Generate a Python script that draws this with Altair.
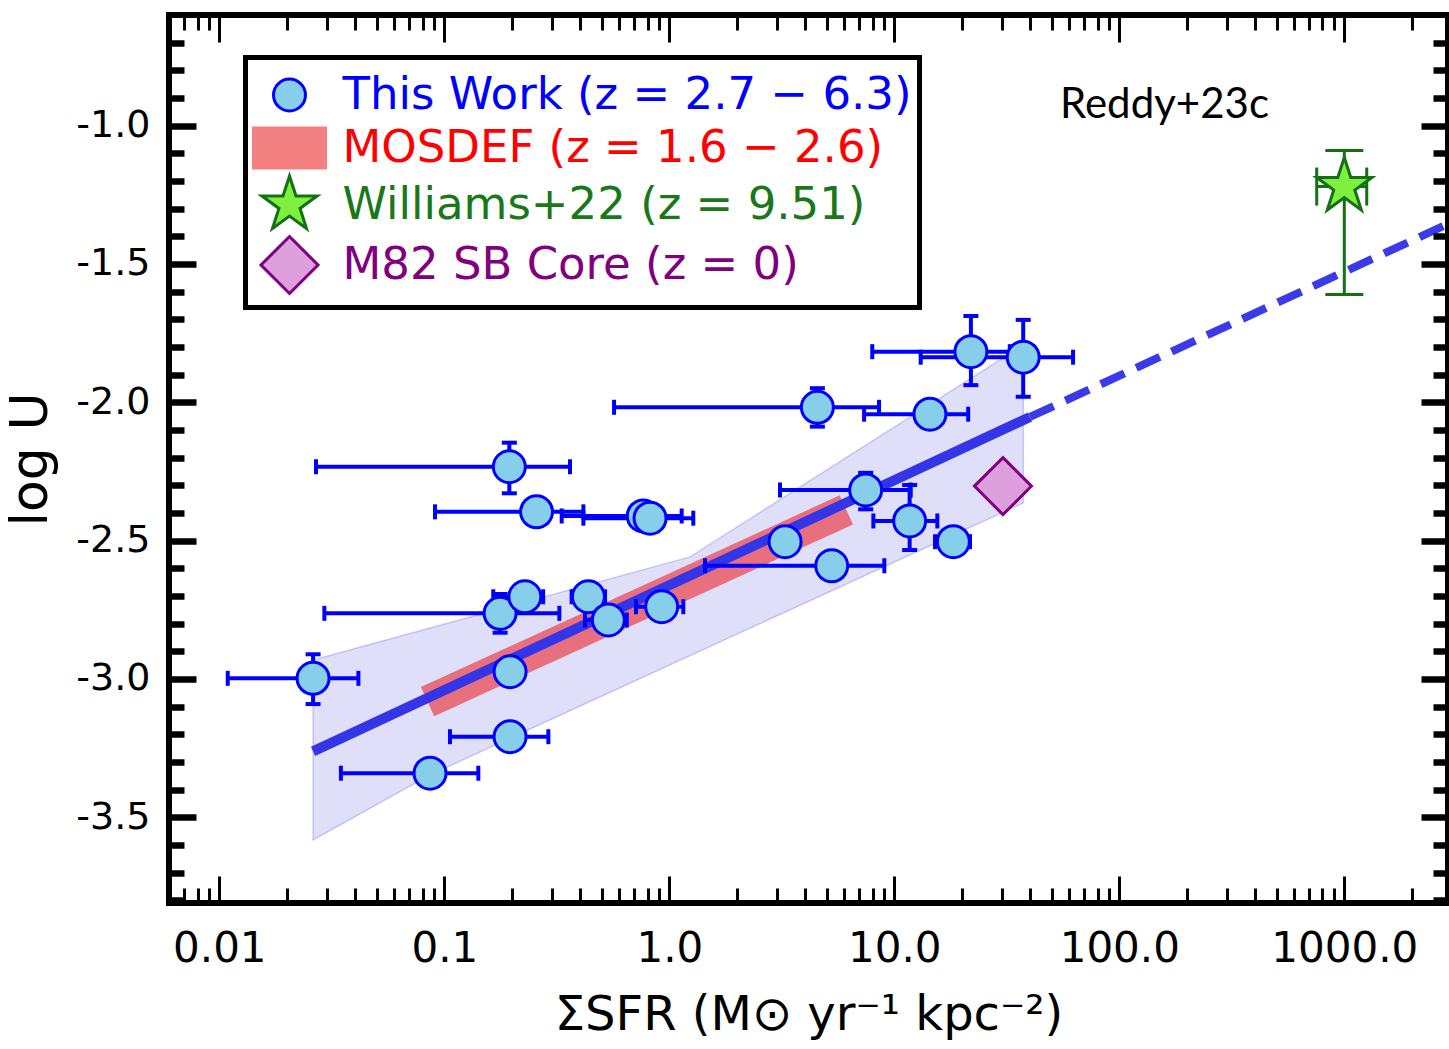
import json
import math
import altair as alt
import pandas as pd

FONT = "DejaVu Sans"

# ---------------- data ----------------
# This Work (z = 2.7 - 6.3)
tw_x = [0.0261, 0.0864, 0.196, 0.196, 0.177, 0.228, 0.437, 0.536, 0.925, 0.257, 0.766,
        0.821, 0.1945, 4.55, 14.4, 21.9, 37.4, 7.46, 11.7, 18.3, 3.27, 5.27]
tw_y = [-2.998, -3.341, -3.209, -2.974, -2.763, -2.703, -2.703, -2.787, -2.739, -2.396, -2.411,
        -2.419, -2.233, -2.018, -2.043, -1.817, -1.837, -2.317, -2.429, -2.504, -2.504, -2.591]
tw_xlo = [0.0109, 0.0347, 0.106, None, 0.0293, 0.165, 0.368, 0.422, 0.711, 0.0909, 0.3325,
          0.415, 0.0269, 0.568, 7.34, 7.98, 13.1, 3.105, 8.07, 15.17, None, 1.441]
tw_xhi = [0.0415, 0.1416, 0.290, None, 0.3245, 0.275, 0.518, 0.647, 1.154, 0.415, 1.135,
          1.278, 0.362, 8.55, 21.3, 32.6, 62.3, 11.83, 15.53, 21.7, None, 9.03]
tw_ylo = [-3.091, None, None, None, -2.833, None, None, None, None, None, None,
          None, -2.329, -2.088, None, -1.938, -1.980, -2.387, -2.534, None, None, None]
tw_yhi = [-2.911, None, None, None, -2.693, None, None, None, None, None, None,
          None, -2.146, -1.949, None, -1.688, -1.702, -2.255, -2.299, None, None, None]

# Williams+22 (z = 9.51)
wil_x, wil_y = [1000.0], [-1.22]
wil_xlo, wil_xhi = [754.0], [1258.0]
wil_ylo, wil_yhi = [-1.610], [-1.090]

# M82 SB core
m82_x, m82_y = [30.4], [-2.303]

# best fit (solid over data range, dashed extrapolation)
fit_x, fit_y = [0.0261, 40.1], [-3.262, -2.053]
ext_x, ext_y = [40.1, 2890.0], [-2.053, -1.355]

# MOSDEF relation
mos_x, mos_y = [0.0842, 6.12], [-3.082, -2.389]

# confidence region
band_x = [0.0261, 0.0864, 1.236, 37.44]
band_hi = [-2.932, -2.816, -2.559, -1.793]
band_lo = [-3.582, -3.347, -2.916, -2.364]

series = ["This Work (z = 2.7 \u2212 6.3)", "MOSDEF (z = 1.6 \u2212 2.6)",
          "Williams+22 (z = 9.51)", "M82 SB Core (z = 0)"]
label_colors = ["#0000ff", "#ff0000", "#1a781a", "#800080"]
fills = ["#87ceeb", "#f28080", "#80f040", "#dda0dd"]
strokes = ["#0000ff", "#f28080", "#147014", "#800080"]

x_major = [0.01, 0.1, 1, 10, 100, 1000]
x_major_labels = ["0.01", "0.1", "1.0", "10.0", "100.0", "1000.0"]
x_minor = [0.007, 0.008, 0.009,
           0.02, 0.03, 0.04, 0.05, 0.06, 0.07, 0.08, 0.09,
           0.2, 0.3, 0.4, 0.5, 0.6, 0.7, 0.8, 0.9,
           2, 3, 4, 5, 6, 7, 8, 9,
           20, 30, 40, 50, 60, 70, 80, 90,
           200, 300, 400, 500, 600, 700, 800, 900,
           2000]
y_major = [-3.5, -3.0, -2.5, -2.0, -1.5, -1.0]
y_major_labels = ["-3.5", "-3.0", "-2.5", "-2.0", "-1.5", "-1.0"]
y_minor = [-3.8, -3.7, -3.6, -3.4, -3.3, -3.2, -3.1, -2.9, -2.8, -2.7, -2.6, -2.4, -2.3,
           -2.2, -2.1, -1.9, -1.8, -1.7, -1.6, -1.4, -1.3, -1.2, -1.1, -0.9, -0.8, -0.7]

# ---------------- marker shapes (unit paths) ----------------
SYM = 3249  # symbol area; unit = sqrt(SYM)/2 = 28.5 px


def circle_path(r):
    return f"M{r},0A{r},{r},0,1,1,{-r},0A{r},{r},0,1,1,{r},0Z"


def star_path(R, r):
    pts = []
    for i in range(10):
        a = math.radians(-90 + 36 * i)
        rad = R if i % 2 == 0 else r
        pts.append(f"{rad * math.cos(a):.4f},{rad * math.sin(a):.4f}")
    return "M" + "L".join(pts) + "Z"


shapes = [circle_path(0.561),
          "M-1.263,-0.702L1.263,-0.702L1.263,0.702L-1.263,0.702Z",
          star_path(1.018, 0.389),
          "M0,-1L1,0L0,1L-1,0Z"]

# ---------------- tables ----------------
tw = pd.DataFrame({"x": tw_x, "y": tw_y, "xlo": tw_xlo, "xhi": tw_xhi,
                   "ylo": tw_ylo, "yhi": tw_yhi})
xe = tw.dropna(subset=["xlo"])[["x", "y", "xlo", "xhi"]]
ye = tw.dropna(subset=["ylo"])[["x", "y", "ylo", "yhi"]]
xcap = pd.DataFrame({"x": list(xe.xlo) + list(xe.xhi), "y": list(xe.y) * 2})
ycap = pd.DataFrame({"x": list(ye.x) * 2, "y": list(ye.ylo) + list(ye.yhi)})

wil = pd.DataFrame({"x": wil_x, "y": wil_y, "xlo": wil_xlo, "xhi": wil_xhi,
                    "ylo": wil_ylo, "yhi": wil_yhi})
wxcap = pd.DataFrame({"x": wil_xlo + wil_xhi, "y": wil_y * 2})
wycap = pd.DataFrame({"x": wil_x * 2, "y": wil_ylo + wil_yhi})

pts_df = pd.DataFrame({
    "x": tw_x + wil_x + m82_x,
    "y": tw_y + wil_y + m82_y,
    "series": [series[0]] * len(tw_x) + [series[2]] * len(wil_x) + [series[3]] * len(m82_x),
})
fit_df = pd.DataFrame({"x": fit_x, "y": fit_y})
ext_df = pd.DataFrame({"x": ext_x, "y": ext_y})
mos_df = pd.DataFrame({"x": mos_x, "y": mos_y})
band_df = pd.DataFrame({"x": band_x, "hi": band_hi, "lo": band_lo})
txt_df = pd.DataFrame({"x": [54.5], "y": [-0.972], "t": ["Reddy+23c"]})
anchor = pd.DataFrame({"x": [1.0], "y": [-2.0]})

# ---------------- scales ----------------
xs = alt.Scale(type="log", domain=[0.005975, 2890.0], nice=False)
ys = alt.Scale(domain=[-3.8102, -0.5998], nice=False, zero=False)


def X(f="x"):
    return alt.X(f"{f}:Q", scale=xs, axis=None)


def Y(f="y"):
    return alt.Y(f"{f}:Q", scale=ys, axis=None)


band = alt.Chart(band_df).mark_area(fill="#5050dd", fillOpacity=0.18, stroke="#6060e0",
                                    strokeOpacity=0.3, strokeWidth=1.5).encode(
    x=X(), y=Y("hi"), y2="lo:Q")
mos = alt.Chart(mos_df).mark_line(color="#e8707e", strokeWidth=32, strokeCap="butt").encode(
    x=X(), y=Y())
fit = alt.Chart(fit_df).mark_line(color="#3535e8", strokeWidth=10, strokeCap="butt").encode(
    x=X(), y=Y())
ext = alt.Chart(ext_df).mark_line(color="#3a3ae8", strokeWidth=8, strokeDash=[26, 13],
                                  strokeCap="butt").encode(x=X(), y=Y())

xr = alt.Chart(xe).mark_rule(color="#0000ff", strokeWidth=4).encode(x=X("xlo"), x2="xhi:Q", y=Y())
yr = alt.Chart(ye).mark_rule(color="#0000ff", strokeWidth=4).encode(x=X(), y=Y("ylo"), y2="yhi:Q")
xc = alt.Chart(xcap).mark_tick(orient="vertical", size=15, thickness=4, color="#0000ff",
                               opacity=1).encode(x=X(), y=Y())
yc = alt.Chart(ycap).mark_tick(orient="horizontal", size=15, thickness=4, color="#0000ff",
                               opacity=1).encode(x=X(), y=Y())

wxr = alt.Chart(wil).mark_rule(color="#147014", strokeWidth=3).encode(x=X("xlo"), x2="xhi:Q", y=Y())
wyr = alt.Chart(wil).mark_rule(color="#147014", strokeWidth=3).encode(x=X(), y=Y("ylo"), y2="yhi:Q")
wxc = alt.Chart(wxcap).mark_tick(orient="vertical", size=38, thickness=3, color="#147014",
                                 opacity=1).encode(x=X(), y=Y())
wyc = alt.Chart(wycap).mark_tick(orient="horizontal", size=38, thickness=3, color="#147014",
                                 opacity=1).encode(x=X(), y=Y())

color_expr = (f"{json.dumps(label_colors)}"
              f"[indexof({json.dumps(series, ensure_ascii=False)}, datum.value)]")
leg = alt.Legend(title=None, orient="none", legendX=76.5, legendY=42.5, padding=7.5,
                 symbolOffset=6.5, labelOffset=23, rowPadding=-40, gridAlign="each",
                 labelFont=FONT, labelFontSize=45, labelLimit=2000,
                 labelColor=alt.ExprRef(expr=color_expr),
                 symbolSize=SYM, symbolStrokeWidth=3, symbolOpacity=1,
                 fillColor="white", strokeColor="black")

pts = alt.Chart(pts_df).mark_point(filled=True, opacity=1, size=SYM, strokeWidth=3).encode(
    x=X(), y=Y(),
    fill=alt.Fill("series:N", scale=alt.Scale(domain=series, range=fills), legend=leg),
    stroke=alt.Stroke("series:N", scale=alt.Scale(domain=series, range=strokes), legend=leg),
    shape=alt.Shape("series:N", scale=alt.Scale(domain=series, range=shapes), legend=leg),
)

txt = alt.Chart(txt_df).mark_text(font="Lato", fontSize=42, align="left",
                                  baseline="alphabetic", color="black").encode(
    x=X(), y=Y(), text="t:N")

x_label_expr = f"{json.dumps(x_major_labels)}[indexof({json.dumps(x_major)}, datum.value)]"
y_label_expr = f"{json.dumps(y_major_labels)}[indexof({json.dumps(y_major)}, datum.value)]"

common = dict(domain=False, grid=False, tickColor="black", zindex=1)


def xaxis(orient, values, size, labels=False, title=None):
    kw = dict(common, orient=orient, values=values, tickSize=size, offset=-size,
              tickWidth=3, labels=labels, title=title)
    if labels:
        kw.update(labelExpr=x_label_expr, labelFont=FONT, labelFontSize=42, labelPadding=25,
                  labelColor="black", labelFlush=False, labelOverlap=False)
    if title:
        kw.update(titleFont=FONT, titleFontSize=48, titleFontWeight="normal",
                  titleColor="black", titlePadding=22)
    return alt.Axis(**kw)


def yaxis(orient, values, size, labels=False, title=None):
    kw = dict(common, orient=orient, values=values, tickSize=size, offset=-size,
              tickWidth=6.5, labels=labels, title=title)
    if labels:
        kw.update(labelExpr=y_label_expr, labelFont=FONT, labelFontSize=38, labelPadding=19,
                  labelColor="black", labelFlush=False, labelOverlap=False)
    if title:
        kw.update(titleFont=FONT, titleFontSize=52, titleFontWeight="normal",
                  titleColor="black", titlePadding=18)
    return alt.Axis(**kw)


def axis_layer(xa, ya):
    return alt.Chart(anchor).mark_point(opacity=0, size=1).encode(
        x=alt.X("x:Q", scale=xs, axis=xa), y=alt.Y("y:Q", scale=ys, axis=ya))


axA = axis_layer(xaxis("bottom", x_major, 27, True, "\u03a3SFR (M\u2299 yr\u207b\u00b9 kpc\u207b\u00b2)"),
                 yaxis("left", y_major, 27, True, "log U"))
axB = axis_layer(xaxis("bottom", x_minor, 15), yaxis("left", y_minor, 15))
axC = axis_layer(xaxis("top", x_major, 27), yaxis("right", y_major, 27))
axD = axis_layer(xaxis("top", x_minor, 15), yaxis("right", y_minor, 15))

chart = alt.layer(band, mos, fit, ext, xr, yr, xc, yc, wxr, wyr, wxc, wyc, pts, txt,
                  axA, axB, axC, axD).resolve_axis(
    x="independent", y="independent"
).properties(
    width=1279, height=888,
    autosize=alt.AutoSizeParams(type="none"),
    padding={"left": 169, "top": 15, "right": 1, "bottom": 146},
).configure_view(
    stroke="black", strokeWidth=6
).configure_legend(
    strokeWidth=5
)

chart.save("out.html", embed_options={"renderer": "svg", "actions": False})
